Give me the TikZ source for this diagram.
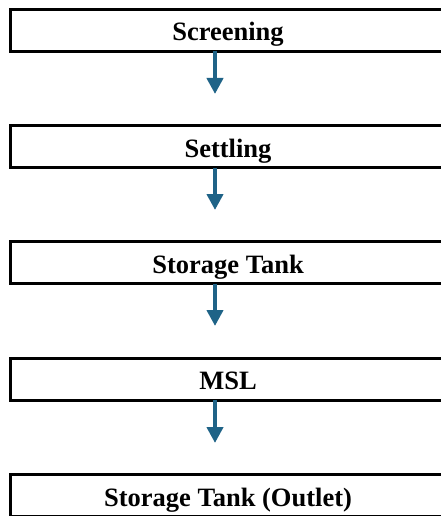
\documentclass[tikz,border=0pt]{standalone}
\usepackage{fontspec}
\setmainfont{Liberation Serif}
\usetikzlibrary{arrows.meta}
\definecolor{arrowblue}{RGB}{31,99,135}
\begin{document}
\begin{tikzpicture}[x=1pt,y=-1pt,
  stepbox/.style={draw=black,line width=3pt,minimum width=435pt,minimum height=42pt,inner sep=0pt,outer sep=0pt},
  lbl/.style={anchor=base,font=\fontsize{26.5}{30}\selectfont\bfseries,inner sep=0pt},
  flow/.style={draw=arrowblue,line width=4.5pt,-{Triangle[width=16pt,length=16pt]}}]
\useasboundingbox (0,0) rectangle (441,516);
\clip (0,0) rectangle (441,516);
\node[stepbox] (b1) at (228,30.5) {};
\node[stepbox] (b2) at (228,146.75) {};
\node[stepbox] (b3) at (228,262.5) {};
\node[stepbox] (b4) at (228,379) {};
\node[stepbox] (b5) at (228,495.5) {};
\node[lbl] (t1) at (228,41) {Screening};
\node[lbl] (t2) at (228,157.5) {Settling};
\node[lbl] (t3) at (228,273) {Storage Tank};
\node[lbl] (t4) at (228,389) {MSL};
\node[lbl] (t5) at (228,506.5) {Storage Tank (Outlet)};
\coordinate (e1) at (215,94);
\coordinate (e2) at (215,210);
\coordinate (e3) at (215,326);
\coordinate (e4) at (215,443);
\draw[flow] (b1.south -| e1) -- (e1);
\draw[flow] (b2.south -| e2) -- (e2);
\draw[flow] (b3.south -| e3) -- (e3);
\draw[flow] (b4.south -| e4) -- (e4);
\end{tikzpicture}
\end{document}
